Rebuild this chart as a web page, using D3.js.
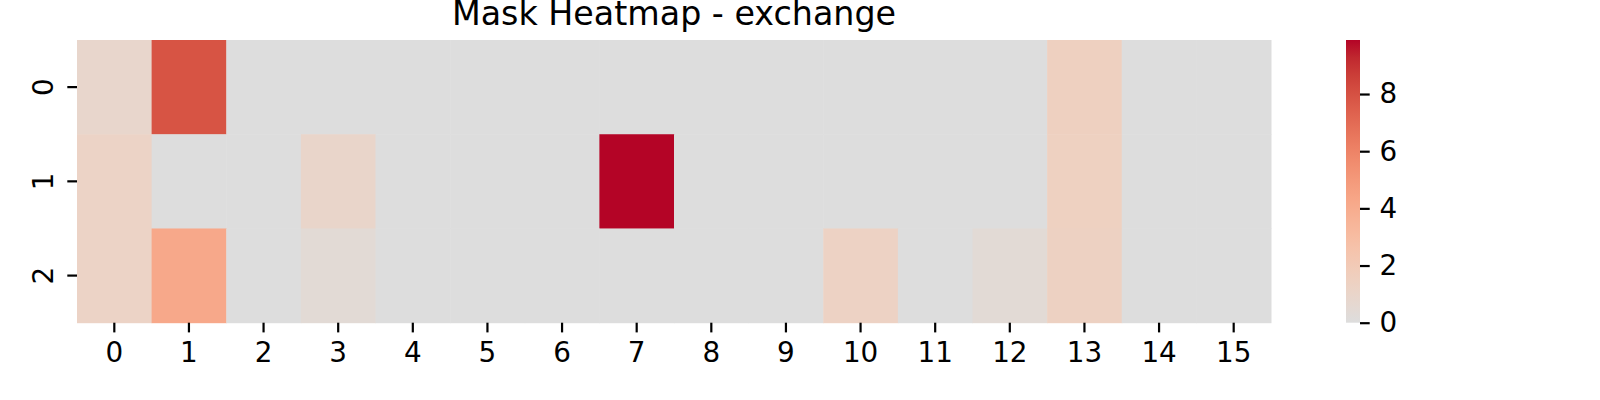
<!DOCTYPE html>
<html>
<head>
<meta charset="utf-8">
<script src="https://cdn.jsdelivr.net/npm/d3@7"></script>
<style>
  body { margin: 0; background: #fff; }
  text { font-family: "DejaVu Sans", sans-serif; fill: #000; }
</style>
</head>
<body>
<div id="heatmap"></div>
<script>
// values
var rowLabels = ["0", "1", "2"];
var colLabels = ["0", "1", "2", "3", "4", "5", "6", "7", "8", "9", "10", "11", "12", "13", "14", "15"];
var row0 = [0.9, 7.9, 0, 0, 0, 0, 0, 0, 0, 0, 0, 0, 0, 1.5, 0, 0];
var row1 = [1.2, 0, 0, 1.0, 0, 0, 0, 9.89, 0, 0, 0, 0, 0, 1.45, 0, 0];
var row2 = [1.2, 4.2, 0, 0.4, 0, 0, 0, 0, 0, 0, 1.3, 0, 0.4, 1.4, 0, 0];
var cbarTicks = [0, 2, 4, 6, 8];

// upper half of coolwarm (center = 0)
var coolwarmTop = ["#dddddd", "#e5d8d1", "#ecd3c5", "#f1ccb9", "#f5c4ad", "#f7bba0", "#f7b194",
  "#f7a687", "#f49a7b", "#f18d6f", "#ec7f63", "#e57058", "#de604d", "#d55042", "#cb3e38",
  "#c0282f", "#b40426"];

var svgWidth = 1600;
var svgHeight = 400;

var margin = { top: 40, left: 77 };
var chartWidth = 1194;
var chartHeight = 282.7;

var rows = [row0, row1, row2];
var cells = [];
rows.forEach(function(r, i) {
  r.forEach(function(v, j) {
    cells.push({ row: rowLabels[i], col: colLabels[j], value: v });
  });
});

var vmax = d3.max(cells, d => d.value);

var color = d3.scaleLinear()
  .domain(coolwarmTop.map((c, i) => vmax * i / (coolwarmTop.length - 1)))
  .range(coolwarmTop)
  .interpolate(d3.interpolateRgb);

var svg = d3.select("#heatmap").append("svg")
  .attr("width", svgWidth)
  .attr("height", svgHeight);

var chartGroup = svg.append("g")
  .attr("transform", `translate(${margin.left}, ${margin.top})`);

var xScale = d3.scaleBand().domain(colLabels).range([0, chartWidth]);
var yScale = d3.scaleBand().domain(rowLabels).range([0, chartHeight]);

chartGroup.append("g").selectAll("rect")
  .data(cells)
  .enter()
  .append("rect")
  .attr("x", d => xScale(d.col))
  .attr("y", d => yScale(d.row))
  .attr("width", xScale.bandwidth() + 0.5)
  .attr("height", yScale.bandwidth() + 0.5)
  .attr("fill", d => color(d.value));

// axes
var xAxis = chartGroup.append("g")
  .attr("transform", `translate(0, ${chartHeight})`)
  .call(d3.axisBottom(xScale).tickSize(9.7).tickPadding(9.7));

var yAxis = chartGroup.append("g")
  .call(d3.axisLeft(yScale).tickSize(9.7).tickPadding(9.7));

[xAxis, yAxis].forEach(function(ax) {
  ax.select(".domain").remove();
  ax.selectAll("line").attr("stroke", "#000").attr("stroke-width", 2.2);
  ax.selectAll("text").style("font-size", "27.8px").style("font-family", "DejaVu Sans");
});

yAxis.selectAll("text")
  .attr("x", 0)
  .attr("dy", 0)
  .attr("text-anchor", "middle")
  .attr("transform", "translate(-24, 0) rotate(-90)");

// title
svg.append("text")
  .attr("x", margin.left + chartWidth / 2)
  .attr("y", 25)
  .attr("text-anchor", "middle")
  .style("font-size", "33.3px")
  .text("Mask Heatmap - exchange");

// colorbar
var cbarX = 1346;
var cbarW = 14;

var cScale = d3.scaleLinear()
  .domain([0, vmax])
  .range([margin.top + chartHeight, margin.top]);

var grad = svg.append("defs").append("linearGradient")
  .attr("id", "cbar")
  .attr("x1", 0).attr("y1", 1)
  .attr("x2", 0).attr("y2", 0);

grad.selectAll("stop")
  .data(coolwarmTop)
  .enter()
  .append("stop")
  .attr("offset", (d, i) => i / (coolwarmTop.length - 1))
  .attr("stop-color", d => d);

svg.append("rect")
  .attr("x", cbarX)
  .attr("y", cScale(vmax))
  .attr("width", cbarW)
  .attr("height", cScale(0) - cScale(vmax))
  .attr("fill", "url(#cbar)");

var cAxis = svg.append("g")
  .attr("transform", `translate(${cbarX + cbarW}, 0)`)
  .call(d3.axisRight(cScale).tickValues(cbarTicks).tickFormat(d3.format("d")).tickSize(9.7).tickPadding(9.7));

cAxis.select(".domain").remove();
cAxis.selectAll("line").attr("stroke", "#000").attr("stroke-width", 2.2);
cAxis.selectAll("text").style("font-size", "27.8px").style("font-family", "DejaVu Sans");
</script>
</body>
</html>
